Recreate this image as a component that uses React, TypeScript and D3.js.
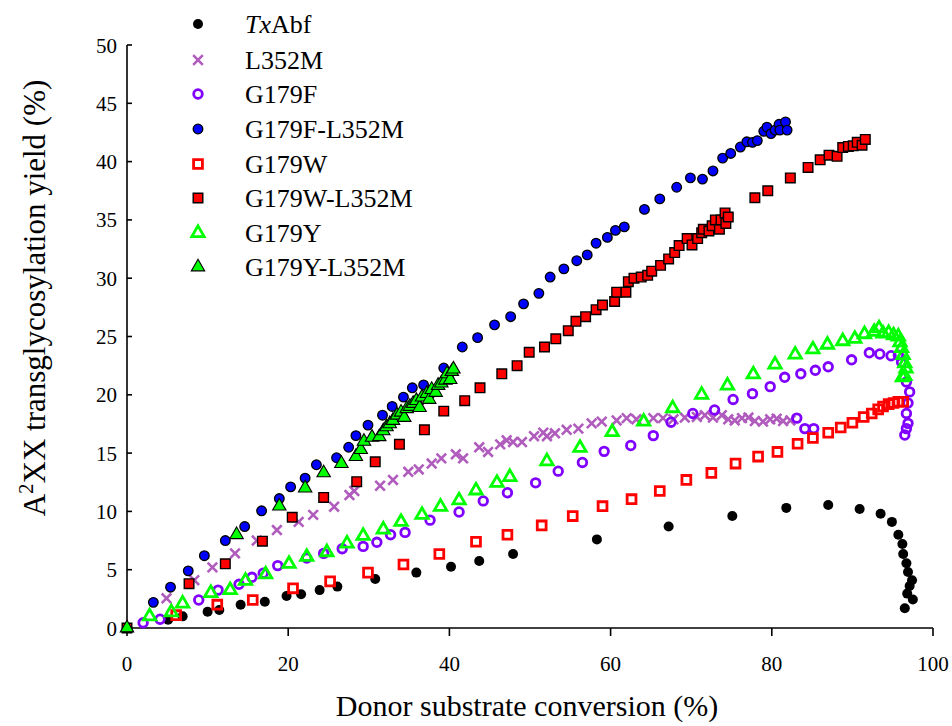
import React from 'react';
import * as d3 from 'd3';

type Pt = [number, number];

// Donor substrate conversion (%) vs A2XX transglycosylation yield (%)
const txAbf: Pt[] = [
  [5.1, 0.7], [6.9, 1.0], [10.0, 1.4], [11.45, 1.55], [14.1, 2.0], [17.1, 2.25], [19.8, 2.75],
  [21.6, 2.9], [23.9, 3.25], [26.1, 3.55], [30.8, 4.2], [35.9, 4.75], [40.2, 5.25], [43.7, 5.75],
  [47.9, 6.35], [58.3, 7.6], [67.2, 8.7], [75.1, 9.6], [81.8, 10.3], [87.0, 10.55], [90.9, 10.2],
  [93.5, 9.8], [94.9, 9.1], [95.7, 8.0], [96.2, 7.2], [96.3, 6.35], [96.7, 5.55], [96.9, 4.8],
  [97.4, 4.1], [97.1, 3.6], [96.8, 2.95], [97.5, 2.45], [96.5, 1.7],
];

const l352m: Pt[] = [
  [4.9, 2.55], [8.35, 4.1], [10.6, 5.2], [13.4, 6.4], [16.1, 7.5], [18.6, 8.4], [21.3, 9.1],
  [23.1, 9.7], [25.7, 10.4], [27.6, 11.4], [28.2, 11.75], [31.4, 12.2], [33.0, 12.7], [34.9, 13.4],
  [36.2, 13.6], [37.8, 14.1], [39.0, 14.55], [40.8, 14.9], [41.7, 14.55], [43.7, 15.5], [44.8, 15.1],
  [46.3, 15.75], [47.1, 16.1], [47.9, 15.95], [49.0, 15.95], [50.5, 16.45], [51.65, 16.75],
  [52.1, 16.45], [53.1, 16.7], [54.55, 17.0], [56.0, 17.1], [57.65, 17.55], [58.9, 17.7],
  [60.75, 17.8], [62.0, 18.0], [63.2, 17.9], [65.3, 18.0], [66.5, 18.0], [67.8, 17.9], [69.2, 18.05],
  [70.7, 18.1], [71.7, 18.25], [72.7, 18.05], [73.8, 18.25], [74.6, 17.9], [75.4, 17.8], [76.3, 18.0],
  [77.1, 18.05], [77.9, 17.75], [78.9, 17.7], [79.8, 17.9], [80.6, 17.95], [81.4, 17.75], [82.3, 17.8],
];

const g179f: Pt[] = [
  [2.0, 0.45], [4.1, 0.75], [8.9, 2.4], [11.3, 3.25], [13.9, 3.75], [15.5, 4.35], [16.9, 4.7],
  [18.7, 5.35], [22.3, 6.0], [24.4, 6.4], [26.7, 6.8], [29.3, 7.0], [31.0, 7.35], [32.7, 8.0],
  [34.5, 8.2], [37.6, 9.25], [41.2, 9.95], [44.2, 10.9], [47.2, 11.6], [50.7, 12.45], [53.5, 13.45],
  [56.5, 14.2], [59.2, 15.15], [62.5, 15.65], [65.3, 16.5], [67.5, 17.65], [70.2, 18.4], [72.9, 18.7],
  [75.2, 19.6], [77.6, 20.1], [79.8, 20.7], [81.6, 21.5], [83.6, 21.8], [85.4, 22.1], [87.0, 22.4],
  [89.9, 23.0], [92.1, 23.6], [93.4, 23.5], [94.8, 23.35], [95.7, 23.4], [96.1, 22.8],
  [96.7, 21.1], [97.1, 20.25], [96.9, 19.3], [96.7, 18.4], [96.9, 17.55], [96.7, 17.1], [96.5, 16.55],
  [83.1, 18.0], [84.1, 17.1], [85.2, 17.1],
];

const g179fL352m: Pt[] = [
  [3.27, 2.2], [5.4, 3.5], [7.6, 4.9], [9.6, 6.2], [12.2, 7.5], [14.6, 8.7], [16.7, 10.05],
  [18.9, 11.1], [20.3, 12.1], [22.1, 12.85], [23.5, 14.0], [26.0, 14.6], [27.5, 15.5], [28.4, 16.5],
  [29.9, 17.4], [31.7, 18.25], [32.9, 19.0], [34.3, 19.8], [35.4, 20.6], [36.8, 20.85], [39.3, 22.3],
  [41.6, 24.1], [43.5, 24.9], [45.6, 26.0], [47.6, 26.7], [49.2, 27.8], [51.1, 28.7], [52.5, 30.1],
  [54.2, 30.8], [55.8, 31.5], [57.1, 32.0], [58.2, 33.0], [59.6, 33.5], [60.6, 34.1], [61.7, 34.4],
  [64.2, 35.9], [66.1, 36.8], [68.2, 37.8], [69.9, 38.6], [71.4, 38.5], [72.7, 39.2], [73.9, 40.3],
  [74.9, 40.7], [76.1, 41.25], [76.9, 41.7], [77.6, 41.65], [78.2, 41.8], [79.0, 42.6], [79.4, 42.95],
  [79.9, 42.4], [80.4, 42.7], [80.9, 43.2], [81.0, 42.7], [81.7, 43.4], [81.9, 42.7],
];

const g179w: Pt[] = [
  [6.1, 1.1], [11.2, 2.0], [15.6, 2.4], [20.6, 3.4], [25.2, 4.0], [29.9, 4.75], [34.3, 5.45],
  [38.75, 6.35], [43.3, 7.4], [47.2, 8.0], [51.45, 8.8], [55.3, 9.6], [59.0, 10.45], [62.6, 11.05],
  [66.1, 11.75], [69.4, 12.7], [72.5, 13.3], [75.5, 14.1], [78.3, 14.7], [80.7, 15.1], [83.2, 15.8],
  [85.1, 16.3], [87.0, 16.75], [88.55, 17.2], [90.0, 17.6], [91.4, 18.1], [92.4, 18.4], [93.2, 18.75],
  [93.8, 19.0], [94.5, 19.2], [95.1, 19.3], [95.7, 19.4], [96.3, 19.4],
];

const g179wL352m: Pt[] = [
  [0, 0], [7.7, 3.8], [12.2, 5.5], [16.8, 7.45], [20.5, 9.5], [24.4, 11.2], [28.5, 12.55],
  [30.8, 14.25], [33.8, 15.75], [36.9, 17.0], [39.3, 18.6], [41.9, 19.5], [43.8, 20.6], [46.5, 21.8],
  [48.4, 22.5], [49.9, 23.65], [51.8, 24.1], [53.2, 24.8], [54.75, 25.5], [55.7, 26.3], [56.9, 26.7],
  [58.2, 27.3], [59.0, 27.7], [60.5, 28.0], [60.75, 28.8], [61.9, 28.8], [62.2, 29.7], [62.9, 30.0],
  [63.8, 30.1], [64.6, 30.25], [65.1, 30.6], [66.2, 31.1], [67.2, 31.65], [67.95, 32.2], [68.5, 32.8],
  [69.5, 33.4], [70.1, 32.85], [70.8, 33.4], [71.3, 33.9], [71.5, 34.2], [72.2, 34.05], [72.6, 34.5],
  [73.0, 35.0], [73.5, 34.2], [73.7, 35.0], [74.2, 35.6], [74.3, 34.7], [74.6, 35.25], [77.9, 36.9],
  [79.5, 37.5], [82.3, 38.6], [84.5, 39.5], [86.0, 40.15], [87.1, 40.55], [88.1, 40.45], [88.8, 41.2],
  [89.5, 41.3], [90.1, 41.35], [90.6, 41.65], [91.2, 41.4], [91.6, 41.9],
];

const g179y: Pt[] = [
  [2.8, 1.0], [5.5, 1.35], [6.9, 2.1], [10.4, 3.0], [12.8, 3.25], [14.7, 4.05], [17.2, 4.6],
  [20.1, 5.5], [22.3, 6.1], [24.8, 6.5], [27.3, 7.25], [29.3, 7.9], [31.8, 8.45], [34.0, 9.1],
  [36.6, 9.7], [38.9, 10.4], [41.2, 10.95], [43.3, 11.8], [45.9, 12.45], [47.5, 12.95], [52.1, 14.3],
  [56.2, 15.45], [60.2, 16.8], [64.1, 17.7], [67.7, 18.85], [71.3, 20.0], [74.5, 20.8], [77.7, 21.75],
  [80.4, 22.6], [82.9, 23.45], [85.1, 23.9], [86.9, 24.3], [88.8, 24.6], [90.3, 24.8], [91.5, 25.2],
  [92.7, 25.4], [93.3, 25.7], [93.8, 25.25], [94.5, 25.3], [95.1, 25.1], [95.7, 25.0], [95.9, 24.5],
  [96.1, 24.0], [96.3, 23.4], [96.5, 22.7], [96.65, 22.25], [96.5, 21.6], [96.2, 21.5],
];

const g179yL352m: Pt[] = [
  [0, 0], [13.6, 8.0], [18.9, 10.45], [22.1, 12.0], [24.4, 13.3], [26.6, 14.1], [28.4, 14.7],
  [29.0, 15.3], [29.4, 16.0], [30.4, 16.35], [31.3, 16.4], [31.8, 16.9], [32.2, 17.25], [32.6, 17.5],
  [33.0, 17.8], [33.5, 18.25], [34.0, 18.5], [34.4, 18.05], [34.7, 18.8], [35.1, 19.0], [35.5, 19.25],
  [35.9, 19.5], [36.3, 18.9], [36.6, 19.8], [37.2, 20.1], [37.5, 19.6], [37.8, 20.45], [38.3, 20.2],
  [38.6, 20.8], [39.0, 21.0], [39.5, 21.25], [39.7, 21.8], [40.1, 21.3], [40.3, 22.0], [40.5, 22.2],
];

const xTicks = [0, 20, 40, 60, 80, 100];
const yTicks = [0, 5, 10, 15, 20, 25, 30, 35, 40, 45, 50];

type Kind = 'dot' | 'cross' | 'ring' | 'square' | 'triangle';
interface Series {
  name: string;
  data: Pt[];
  kind: Kind;
  fill: string;
  stroke: string;
  sw: number;
  size: number;
}

const series: Series[] = [
  { name: 'TxAbf', data: txAbf, kind: 'dot', fill: '#000', stroke: 'none', sw: 0, size: 5 },
  { name: 'L352M', data: l352m, kind: 'cross', fill: 'none', stroke: '#b05cbd', sw: 2.6, size: 4.8 },
  { name: 'G179F', data: g179f, kind: 'ring', fill: 'none', stroke: '#8000ff', sw: 2.8, size: 4.3 },
  { name: 'G179F-L352M', data: g179fL352m, kind: 'dot', fill: '#0000ff', stroke: '#000', sw: 1.3, size: 4.8 },
  { name: 'G179W', data: g179w, kind: 'square', fill: 'none', stroke: '#ff0000', sw: 2.8, size: 78 },
  { name: 'G179W-L352M', data: g179wL352m, kind: 'square', fill: '#ff0000', stroke: '#000', sw: 1.4, size: 92 },
  { name: 'G179Y', data: g179y, kind: 'triangle', fill: 'none', stroke: '#00ff00', sw: 2.8, size: 66 },
  { name: 'G179Y-L352M', data: g179yL352m, kind: 'triangle', fill: '#00ff00', stroke: '#000', sw: 1.1, size: 78 },
];

const W = 952;
const H = 726;
const x = d3.scaleLinear().domain([0, 100]).range([127, 933]);
const y = d3.scaleLinear().domain([0, 50]).range([628, 45]);
const txt: React.CSSProperties = { fontFamily: "'Liberation Serif', serif" };

const Marker: React.FC<{ s: Series; cx: number; cy: number }> = ({ s, cx, cy }) => {
  const t = `translate(${cx},${cy})`;
  if (s.kind === 'dot' || s.kind === 'ring') {
    return <circle cx={cx} cy={cy} r={s.size} fill={s.fill} stroke={s.stroke} strokeWidth={s.sw} />;
  }
  if (s.kind === 'cross') {
    const a = s.size;
    return (
      <path transform={t} d={`M${-a},${-a}L${a},${a}M${-a},${a}L${a},${-a}`} stroke={s.stroke} strokeWidth={s.sw} fill="none" />
    );
  }
  const type = s.kind === 'square' ? d3.symbolSquare : d3.symbolTriangle;
  const d = d3.symbol().type(type).size(s.size)() || '';
  return <path transform={t} d={d} fill={s.fill} stroke={s.stroke} strokeWidth={s.sw} strokeLinejoin="miter" />;
};

const legendY = [24, 60, 94, 129, 164, 198, 233, 267];

export default function App() {
  return (
    <svg width={W} height={H} style={{ position: 'absolute', left: 0, top: 0, background: '#fff' }}>
      {/* axes */}
      <line x1={x(0)} x2={x(100)} y1={y(0)} y2={y(0)} stroke="#000" strokeWidth={1.6} />
      <line x1={x(0)} x2={x(0)} y1={y(0)} y2={y(50)} stroke="#000" strokeWidth={1.6} />
      {xTicks.map((t) => (
        <g key={'x' + t}>
          <line x1={x(t)} x2={x(t)} y1={y(0)} y2={y(0) + 8} stroke="#000" strokeWidth={1.6} />
          <text x={x(t)} y={671} textAnchor="middle" fontSize={21} style={txt}>{t}</text>
        </g>
      ))}
      {yTicks.map((t) => (
        <g key={'y' + t}>
          <line x1={x(0)} x2={x(0) + 5} y1={y(t)} y2={y(t)} stroke="#000" strokeWidth={1.6} />
          <text x={117} y={y(t) + 7.5} textAnchor="end" fontSize={21} style={txt}>{t}</text>
        </g>
      ))}

      {/* titles */}
      <text x={527} y={716} textAnchor="middle" fontSize={30} style={txt}>Donor substrate conversion (%)</text>
      <text transform="translate(45,298) rotate(-90)" textAnchor="middle" fontSize={31} style={txt}>
        A<tspan fontSize={21} dy={-12}>2</tspan><tspan dy={12}>XX transglycosylation yield (%)</tspan>
      </text>

      {/* data */}
      {series.map((s) => (
        <g key={s.name}>
          {s.data.map((p, i) => (
            <Marker key={i} s={s} cx={x(p[0])} cy={y(p[1])} />
          ))}
        </g>
      ))}

      {/* legend */}
      {series.map((s, i) => (
        <g key={'lg' + s.name}>
          <Marker s={s} cx={198} cy={legendY[i]} />
          <text x={245} y={legendY[i] + 9} fontSize={26} style={txt}>
            {s.name === 'TxAbf' ? (
              <>
                <tspan fontStyle="italic">Tx</tspan>Abf
              </>
            ) : (
              s.name
            )}
          </text>
        </g>
      ))}
    </svg>
  );
}
